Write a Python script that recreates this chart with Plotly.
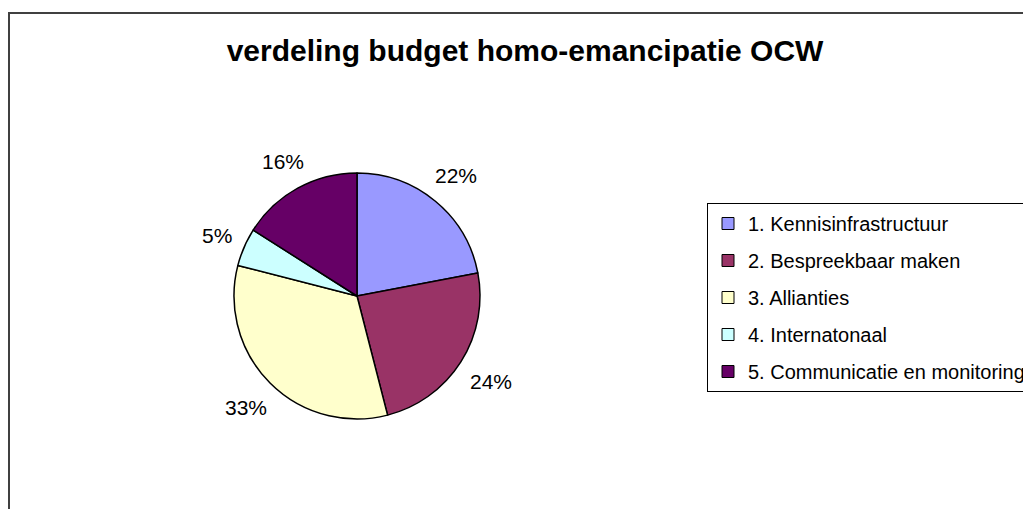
import math
import plotly.graph_objects as go

# ---- data ----
categories = [
    "1. Kennisinfrastructuur",
    "2. Bespreekbaar maken",
    "3. Allianties",
    "4. Internatonaal",
    "5. Communicatie en monitoring",
]
shares = [22, 24, 33, 5, 16]
colors = ["#9999FF", "#993366", "#FFFFCC", "#CCFFFF", "#660066"]
title_text = "verdeling budget homo-emancipatie OCW"

# ---- layout constants (pixels, in figure coordinates) ----
W, H = 1031, 509
CX, CY, R = 349, 288, 123
FONT = "Arial, Liberation Sans, sans-serif"
LABEL_FS = 21

fig = go.Figure()

fig.add_trace(go.Pie(
    labels=categories,
    values=shares,
    sort=False,
    direction="clockwise",
    rotation=0,
    textinfo="none",
    hoverinfo="label+percent",
    marker=dict(colors=colors, line=dict(color="black", width=1.5)),
    domain=dict(x=[(CX - R) / W, (CX + R) / W], y=[1 - (CY + R) / H, 1 - (CY - R) / H]),
    showlegend=False,
))

# legend entries (one group per category for spacing like the original)
for name, col in zip(categories, colors):
    fig.add_trace(go.Scatter(
        x=[None], y=[None], mode="markers", name=name,
        legendgroup=name,
        marker=dict(symbol="square", size=12, color=col, line=dict(color="black", width=1)),
    ))

# percentage labels positioned outside each slice
total = sum(shares)
cum = 0
annotations = []
for v in shares:
    mid = (cum + v / 2) / total
    cum += v
    th = 2 * math.pi * mid
    txt = f"{round(100 * v / total)}%"
    w = 0.7 * LABEL_FS * len(txt)
    h = 14
    d = R * 1.11 + (w / 2) * abs(math.sin(th)) + (h / 2) * abs(math.cos(th))
    px = CX + d * math.sin(th)
    py = CY - d * math.cos(th)
    annotations.append(dict(
        x=px / W, y=1 - py / H, xref="paper", yref="paper",
        text=txt, showarrow=False, xanchor="center", yanchor="middle",
        font=dict(family=FONT, size=LABEL_FS, color="black"),
    ))

fig.update_layout(
    width=W, height=H,
    margin=dict(l=0, r=0, t=0, b=0),
    paper_bgcolor="white", plot_bgcolor="white",
    font=dict(family=FONT, color="black"),
    title=dict(text=f"<b>{title_text}</b>", x=517 / W, xanchor="center",
               y=1 - 42 / H, yanchor="middle",
               font=dict(family=FONT, size=30, color="black")),
    xaxis=dict(visible=False), yaxis=dict(visible=False),
    legend=dict(x=699 / W, xanchor="left", y=1 - 195 / H, yanchor="top",
                bgcolor="white", bordercolor="black", borderwidth=1,
                font=dict(family=FONT, size=20, color="black"),
                tracegroupgap=8),
    annotations=annotations,
    shapes=[dict(type="rect", xref="paper", yref="paper",
                 x0=1 / W, x1=1.02, y0=-0.02, y1=1 - 5 / H,
                 line=dict(color="#404040", width=2), fillcolor="rgba(0,0,0,0)",
                 layer="below")],
)

fig.write_html("out.html")
